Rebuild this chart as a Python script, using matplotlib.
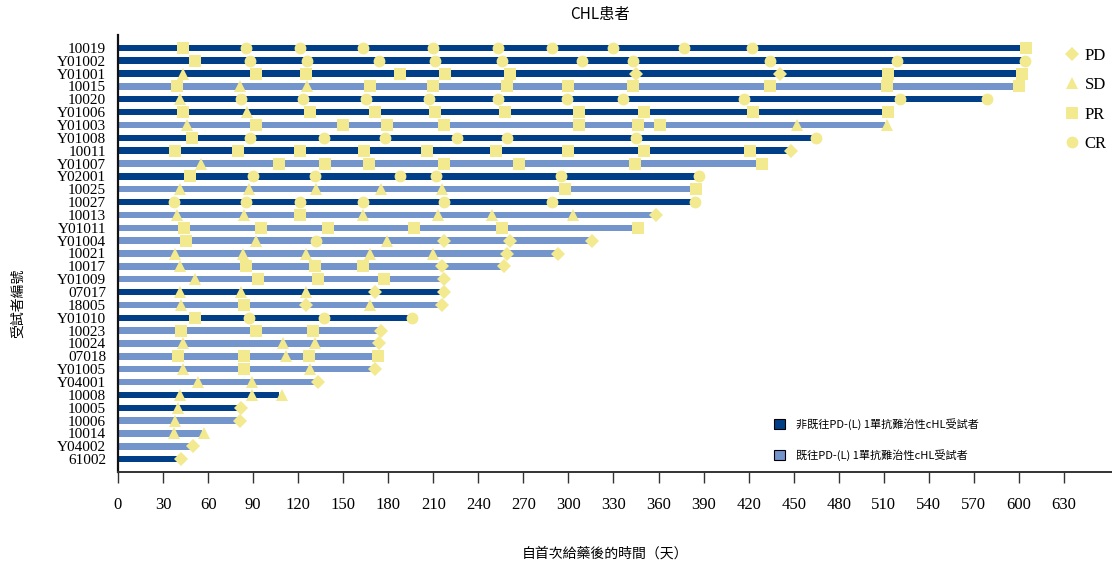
import matplotlib
matplotlib.use("Agg")
import matplotlib.pyplot as plt
from matplotlib.lines import Line2D
from matplotlib.patches import Patch
import numpy as np

# ---- data -------------------------------------------------------------
patients = ["10019", "Y01002", "Y01001", "10015", "10020", "Y01006", "Y01003",
            "Y01008", "10011", "Y01007", "Y02001", "10025", "10027", "10013",
            "Y01011", "Y01004", "10021", "10017", "Y01009", "07017", "18005",
            "Y01010", "10023", "10024", "07018", "Y01005", "Y04001", "10008",
            "10005", "10006", "10014", "Y04002", "61002"]

# 1 = prior PD-(L)1 refractory, 0 = not
prior_pd1 = [0, 0, 0, 1, 0, 0, 1, 0, 0, 1, 0, 1, 0, 1, 1, 1, 1, 1, 1, 0, 1,
             0, 1, 1, 1, 1, 1, 0, 0, 1, 1, 1, 0]

durations = [603, 602, 601, 598, 578, 511, 511, 463, 446, 427, 385, 383, 383,
             356, 344, 314, 291, 255, 215, 215, 215, 194, 173, 172, 172, 170,
             131, 107, 80, 80, 56, 49, 41]

# assessment days and response per assessment
# D = PD, S = SD, P = PR, C = CR
resp_days = [
    [43, 85, 121, 163, 210, 253, 289, 330, 377, 422, 605],
    [51, 88, 126, 174, 211, 256, 309, 343, 434, 519, 604],
    [43, 92, 125, 188, 218, 261, 345, 441, 513, 602],
    [39, 81, 126, 168, 210, 259, 300, 343, 434, 512, 600],
    [41, 82, 123, 165, 207, 253, 299, 336, 417, 521, 579],
    [43, 86, 128, 171, 211, 258, 307, 350, 423, 513],
    [46, 92, 150, 179, 217, 307, 346, 361, 452, 512],
    [49, 88, 137, 178, 226, 259, 345, 465],
    [38, 80, 121, 164, 206, 252, 300, 350, 421, 448],
    [55, 107, 138, 167, 217, 267, 344, 429],
    [48, 90, 131, 188, 212, 295, 387],
    [41, 87, 132, 175, 216, 298, 385],
    [37, 85, 121, 163, 217, 289, 384],
    [39, 84, 121, 163, 213, 249, 303, 358],
    [44, 95, 140, 197, 256, 346],
    [45, 92, 132, 179, 217, 261, 316],
    [38, 83, 125, 168, 210, 259, 293],
    [41, 85, 131, 163, 216, 257],
    [51, 93, 133, 177, 217],
    [41, 82, 125, 171, 217],
    [42, 84, 125, 168, 216],
    [51, 87, 137, 196],
    [42, 92, 130, 175],
    [43, 110, 131, 174],
    [40, 84, 112, 127, 173],
    [43, 84, 128, 171],
    [53, 89, 133],
    [41, 89, 109],
    [40, 82],
    [38, 81],
    [37, 57],
    [50],
    [42],
]
resp_codes = ["PCCCCCCCCCP", "PCCCCCCCCCC", "SPPPPPDDPP", "PSSPPPPPPPP",
              "SCCCCCCCCCC", "PSPPPPPPPP", "SPPPPPPPSS", "PCCCCCCC",
              "PPPPPPPPPD", "SPPPPPPP", "PCCCCCC", "SSSSSPP", "CCCCCCC",
              "SSPSSSSD", "PPPPPP", "PSCSDDD", "SSSSSDD", "SPPPDD", "SPPPD",
              "SSSDD", "SPDSD", "PCCC", "PPPD", "SSSD", "PPSPP", "SPSD",
              "SSD", "SSS", "SD", "SD", "SS", "D", "D"]

resp_labels = ["PD", "SD", "PR", "CR"]
resp_keys = ["D", "S", "P", "C"]
group_labels = ["非既往PD-(L) 1單抗難治性cHL受試者", "既往PD-(L) 1單抗難治性cHL受試者"]
xticks = np.arange(0, 631, 30)

# ---- style ------------------------------------------------------------
dark = "#003F87"
light = "#7494CC"
yellow = "#F3E98E"
markers = {"D": ("D", 7.5), "S": ("^", 8.5), "P": ("s", 8), "C": ("o", 8.5)}
cjk = ["Noto Sans CJK TC", "DejaVu Sans"]
serif = "Liberation Serif"

fig = plt.figure(figsize=(11.12, 5.66), dpi=100)
ax = fig.add_axes([118 / 1112, 1 - 472 / 566, 994 / 1112, 437 / 566])

y = np.arange(len(patients))
colors = [light if p else dark for p in prior_pd1]
ax.barh(y, durations, height=0.5, color=colors, zorder=2)

for key in resp_keys:
    xs, ys = [], []
    for i, (days, codes) in enumerate(zip(resp_days, resp_codes)):
        for d, c in zip(days, codes):
            if c == key:
                xs.append(d)
                ys.append(i)
    m, ms = markers[key]
    ax.plot(xs, ys, ls="none", marker=m, ms=ms, color=yellow,
            mec=yellow, mew=0, zorder=3)

ax.set_xlim(0, 662)
ax.set_ylim(len(patients), -1)
ax.set_yticks(y)
ax.set_yticklabels(patients, family=serif, fontsize=11)
ax.set_xticks(xticks)
ax.set_xticklabels([str(t) for t in xticks], family=serif, fontsize=12)
ax.tick_params(axis="y", length=0, pad=8.5)
ax.tick_params(axis="x", length=8, width=1, color="#333333", pad=10)
for s in ["top", "right"]:
    ax.spines[s].set_visible(False)
ax.spines["left"].set_linewidth(1.6)
ax.spines["left"].set_color("#111111")
ax.spines["bottom"].set_linewidth(1.4)
ax.spines["bottom"].set_color("#333333")

# response legend
h1 = [Line2D([], [], ls="none", marker=markers[k][0], ms=markers[k][1],
             color=yellow, mew=0) for k in resp_keys]
leg1 = ax.legend(h1, resp_labels, loc="upper left",
                 bbox_to_anchor=(1064 / 1112, 1 - 48 / 566),
                 bbox_transform=fig.transFigure, frameon=False,
                 prop={"family": serif, "size": 12}, handlelength=0.9,
                 handletextpad=0.35, labelspacing=0.8, borderpad=0,
                 borderaxespad=0)
ax.add_artist(leg1)

# group legend
h2 = [Patch(facecolor=dark, edgecolor="black", lw=0.8),
      Patch(facecolor=light, edgecolor="black", lw=0.8)]
ax.legend(h2, group_labels, loc="upper left",
          bbox_to_anchor=(774 / 1112, 1 - 418 / 566),
          bbox_transform=fig.transFigure, frameon=False,
          prop={"family": cjk, "size": 8}, handlelength=1, handleheight=1,
          handletextpad=1.0, labelspacing=1.75, borderpad=0, borderaxespad=0)

fig.text(600 / 1112, 1 - 15 / 566, "CHL患者", ha="center", va="center",
         family=cjk, fontsize=11)
fig.text(605 / 1112, 1 - 554 / 566, "自首次給藥後的時間（天）", ha="center",
         va="center", family=cjk, fontsize=10)
fig.text(18 / 1112, 1 - 303 / 566, "受試者編號", ha="center", va="center",
         rotation=90, family=cjk, fontsize=10)

fig.savefig("out.png", dpi=100)
